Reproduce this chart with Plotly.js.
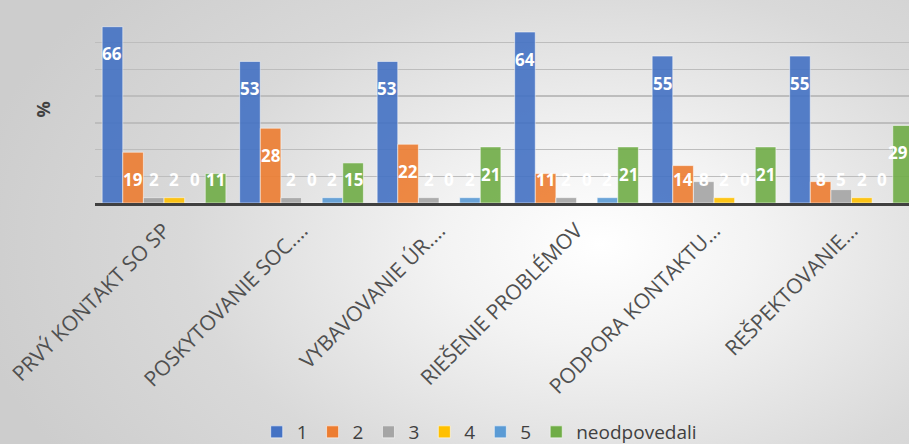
<!DOCTYPE html>
<html>
<head>
<meta charset="utf-8">
<script src="https://cdn.plot.ly/plotly-3.0.1.min.js"></script>
<style>
html,body{margin:0;padding:0;}
body{width:909px;height:444px;overflow:hidden;
background: radial-gradient(ellipse 70% 90% at 66% 55%, #ffffff 0%, #f3f3f3 25%, #d9d9d9 65%, #cdcdcd 100%);}
#chart{width:909px;height:444px;}
</style>
</head>
<body>
<div id="chart"></div>
<script>
const categories = ["PRVÝ KONTAKT SO SP", "POSKYTOVANIE SOC.…", "VYBAVOVANIE ÚR.…", "RIEŠENIE PROBLÉMOV", "PODPORA KONTAKTU…", "REŠPEKTOVANIE…"];
const seriesNames = ["1", "2", "3", "4", "5", "neodpovedali"];
const s1 = [66, 53, 53, 64, 55, 55];
const s2 = [19, 28, 22, 11, 14, 8];
const s3 = [2, 2, 2, 2, 8, 5];
const s4 = [2, 0, 0, 0, 2, 2];
const s5 = [0, 2, 2, 2, 0, 0];
const sNeod = [11, 15, 21, 21, 21, 29];
const colors = ["#4472C4", "#ED7D31", "#A5A5A5", "#FFC000", "#5B9BD5", "#70AD47"];

const series = [s1, s2, s3, s4, s5, sNeod];
const bargap = 0.1;
const barW = (1 - bargap) / series.length;
const xRange = [-0.502, 5.418];

const traces = series.map((vals, k) => ({
  type: "bar",
  name: seriesNames[k],
  x: categories,
  y: vals,
  marker: {color: colors[k], opacity: 0.9, line: {color: "rgba(255,255,255,0.55)", width: 1}},
  hoverinfo: "skip"
}));

const annotations = [];
series.forEach((vals, k) => {
  const off = -(1 - bargap) / 2 + barW * (k + 0.5);
  vals.forEach((v, i) => {
    const xv = i + off;
    annotations.push({
      x: xv, y: Math.max(v - 10.2, 8.7), xref: "x", yref: "y",
      text: "<b>" + v + "</b>", showarrow: false,
      font: {family: "'Open Sans', 'Liberation Sans', sans-serif", size: 17, color: "#ffffff"},
      xanchor: xv + 0.08 > xRange[1] ? "right" : "center", yanchor: "middle",
      xshift: xv + 0.08 > xRange[1] ? 7 : 0
    });
  });
});
annotations.push({
  xref: "paper", yref: "paper", x: -0.065, y: 0.5, text: "<b>%</b>", showarrow: false,
  textangle: -90, font: {family: "'Open Sans', 'Liberation Sans', sans-serif", size: 18, color: "#404040"},
  xanchor: "center", yanchor: "middle"
});

const layout = {
  width: 909, height: 444,
  margin: {l: 95, r: 0, t: 16, b: 241, autoexpand: false},
  paper_bgcolor: "rgba(0,0,0,0)",
  plot_bgcolor: "rgba(0,0,0,0)",
  barmode: "group",
  bargap: bargap,
  bargroupgap: 0,
  font: {family: "'Open Sans', 'Liberation Sans', sans-serif", color: "#404040"},
  xaxis: {
    type: "category",
    range: xRange,
    tickangle: -45,
    tickfont: {size: 21, color: "#505050"},
    ticklabelstandoff: 4,
    showline: true, linecolor: "#404040", linewidth: 3,
    ticks: "", showgrid: false, zeroline: false, automargin: false
  },
  yaxis: {
    range: [0, 70],
    dtick: 10,
    showticklabels: false,
    showgrid: true, gridcolor: "#BDBDBD", gridwidth: 1.5,
    zeroline: false, showline: false, ticks: "", automargin: false
  },
  showlegend: true,
  legend: {
    orientation: "h", x: 0.472, xanchor: "center",
    yref: "container", y: 0.027, yanchor: "middle",
    font: {size: 19, color: "#404040"}, bgcolor: "rgba(0,0,0,0)",
    itemwidth: 30, traceorder: "normal"
  },
  annotations: annotations
};

Plotly.newPlot("chart", traces, layout, {staticPlot: true, displayModeBar: false});
</script>
</body>
</html>
